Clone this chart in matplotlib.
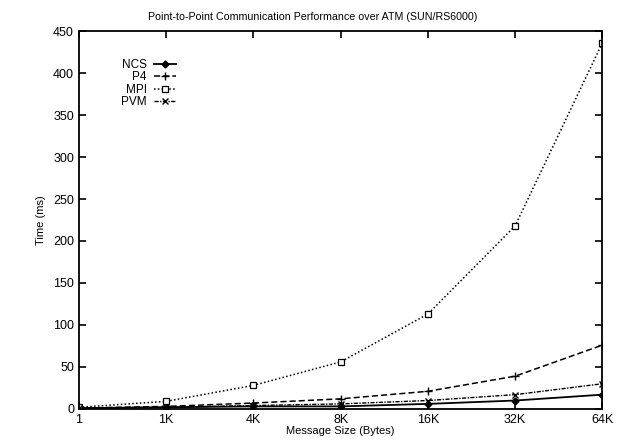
import matplotlib
matplotlib.use("Agg")
import matplotlib.pyplot as plt

plt.rcParams['font.family'] = ['Liberation Sans', 'DejaVu Sans']

#------------ Data ------------#
sizes = ["1", "1K", "4K", "8K", "16K", "32K", "64K"]
ncs = [1, 2, 3, 3, 6, 10, 17]
p4 = [1, 3, 7, 12, 21, 39, 76]
mpi = [2, 9, 28, 56, 113, 218, 436]
pvm = [1, 2, 4, 6, 10, 17, 30]

x = list(range(len(sizes)))

fig = plt.figure(figsize=(6.21, 4.44), dpi=100)
ax = fig.add_axes([0.127, 0.079, 0.843, 0.851])

ax.plot(x, ncs, color='black', lw=1.3, ls='-', marker='D', ms=3.5, label='NCS')
ax.plot(x, p4, color='black', lw=1.1, ls=(0, (4, 2)), marker='+', ms=6, label='P4')
ax.plot(x, mpi, color='black', lw=1.1, ls=(0, (1, 1.5)), marker='s', ms=5,
        mfc='white', mew=0.9, label='MPI')
ax.plot(x, pvm, color='black', lw=1.0, ls=(0, (3, 1, 1, 1)), marker='x', ms=5, label='PVM')

ax.set_xlim(0, len(sizes) - 1)
ax.set_ylim(0, 450)
ax.set_xticks(x)
ax.set_xticklabels(sizes)
ax.set_yticks(range(0, 451, 50))
ax.tick_params(direction='in', top=True, right=True, length=5, width=1.2, labelsize=9)
for s in ax.spines.values():
    s.set_linewidth(1.3)

# title sits a bit left of centre in the original
ax.set_title('Point-to-Point Communication Performance over ATM (SUN/RS6000)',
             fontsize=7.7, pad=8, x=0.447)
ax.set_xlabel('Message Size (Bytes)', fontsize=8, labelpad=0)
ax.set_ylabel('Time (ms)', fontsize=8, labelpad=5)

ax.legend(loc='upper left', bbox_to_anchor=(0.06, 0.955), frameon=False, markerfirst=False,
          fontsize=8.5, handlelength=1.9, handletextpad=0.6, labelspacing=0.05)

fig.savefig('out.png', dpi=100)
